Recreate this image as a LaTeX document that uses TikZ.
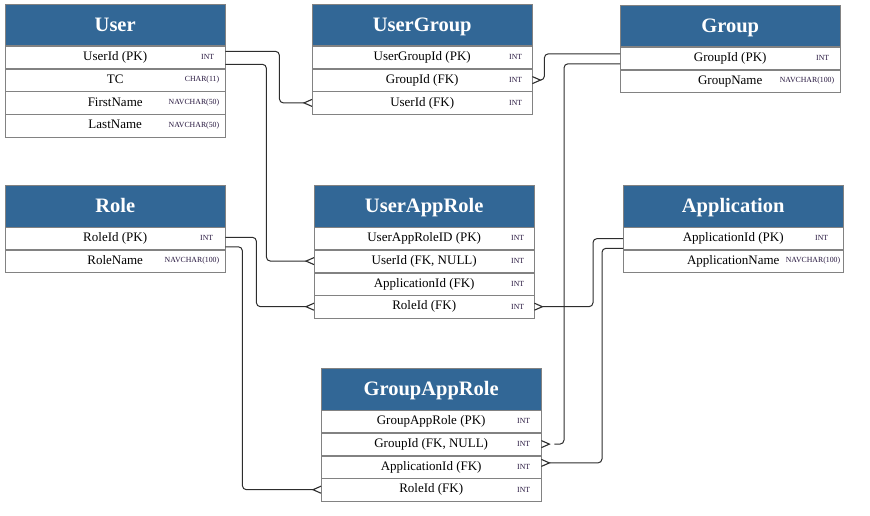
\documentclass[tikz,border=0pt]{standalone}
\usepackage{fontspec}
\setmainfont{Liberation Serif}
\definecolor{hdrblue}{RGB}{50,103,150}
\definecolor{typcol}{RGB}{38,22,62}
\definecolor{boxline}{RGB}{130,130,130}
\definecolor{linecol}{RGB}{45,45,45}
\tikzset{
  hdr/.style={draw=boxline, fill=hdrblue, text=white, font=\fontsize{20.5}{24}\selectfont\bfseries,
    minimum width=220pt, minimum height=41.5pt, inner sep=0pt, text height=14pt, text depth=1pt},
  rowbox/.style={draw=boxline, fill=white, minimum width=220pt, minimum height=22.4pt, inner sep=0pt,
    font=\fontsize{13}{15}\selectfont, text height=9pt, text depth=2.5pt},
  typ/.style={font=\fontsize{7.8}{9}\selectfont, text=typcol, inner sep=0pt},
  conn/.style={draw=linecol, line width=1pt, rounded corners=4pt},
  foot/.style={draw=linecol, line width=1.1pt}
}
\newcommand\erow[5]{%
  \node[rowbox, anchor=north] (#1) at (#2.south) {#3};
  \node[typ, anchor=east] (#1t) at ([xshift=-#5pt]#1.east) {#4};}
% crow's foot opening toward a table on the right of the point: "<"
\newcommand\footL[1]{\draw[foot] ([yshift=3.5pt]#1) -- ([xshift=-8pt]#1) -- ([yshift=-3.5pt]#1);}
% crow's foot opening toward a table on the left of the point: ">"
\newcommand\footR[1]{\draw[foot] ([yshift=3.5pt]#1) -- ([xshift=8pt]#1) -- ([yshift=-3.5pt]#1);}
\begin{document}
\begin{tikzpicture}[x=1pt,y=-1pt]
\useasboundingbox (0,0) rectangle (870,516);
% User
\node[hdr, anchor=north west] (user) at (5,4) {User};
\erow{user1}{user}{UserId (PK)}{INT}{11}
\erow{user2}{user1}{TC}{CHAR(11)}{6}
\erow{user3}{user2}{FirstName}{NAVCHAR(50)}{6}
\erow{user4}{user3}{LastName}{NAVCHAR(50)}{6}
% UserGroup
\node[hdr, anchor=north west] (ug) at (312,4) {UserGroup};
\erow{ug1}{ug}{UserGroupId (PK)}{INT}{10}
\erow{ug2}{ug1}{GroupId (FK)}{INT}{10}
\erow{ug3}{ug2}{UserId (FK)}{INT}{10}
% Group
\node[hdr, anchor=north west] (grp) at (620,5) {Group};
\erow{grp1}{grp}{GroupId (PK)}{INT}{11}
\erow{grp2}{grp1}{GroupName}{NAVCHAR(100)}{6}
% Role
\node[hdr, anchor=north west] (role) at (5,185) {Role};
\erow{role1}{role}{RoleId (PK)}{INT}{12}
\erow{role2}{role1}{RoleName}{NAVCHAR(100)}{6}
% UserAppRole
\node[hdr, anchor=north west] (uar) at (314,185) {UserAppRole};
\erow{uar1}{uar}{UserAppRoleID (PK)}{INT}{10}
\erow{uar2}{uar1}{UserId (FK, NULL)}{INT}{10}
\erow{uar3}{uar2}{ApplicationId (FK)}{INT}{10}
\erow{uar4}{uar3}{RoleId (FK)}{INT}{10}
% Application
\node[hdr, anchor=north west] (app) at (623,185) {Application};
\erow{app1}{app}{ApplicationId (PK)}{INT}{15}
\erow{app2}{app1}{ApplicationName}{NAVCHAR(100)}{3}
% GroupAppRole
\node[hdr, anchor=north west] (gar) at (321,368) {GroupAppRole};
\erow{gar1}{gar}{GroupAppRole (PK)}{INT}{11}
\erow{gar2}{gar1}{GroupId (FK, NULL)}{INT}{11}
\erow{gar3}{gar2}{ApplicationId (FK)}{INT}{11}
\erow{gar4}{gar3}{RoleId (FK)}{INT}{11}
% connector end points
\coordinate (e3) at (ug2.east);
\coordinate (e4) at (gar2.east);
\coordinate (e7) at (uar4.east);
\coordinate (e8) at ([yshift=4pt]gar3.east);
% connectors
\draw[conn] ([yshift=6pt]user1.east) -- ++(54,0) |- ([xshift=-8pt]ug3.west);
\footL{ug3.west}
\draw[conn] ([yshift=-7pt]user1.east) -- ++(41,0) |- ([xshift=-8pt]uar2.west);
\footL{uar2.west}
\draw[conn] ([xshift=8pt]e3) -- ++(4,0) |- ([yshift=4.5pt]grp1.west);
\footR{e3}
\draw[conn] ([yshift=-5.5pt]grp1.west) -- ++(-56,0) |- ([xshift=13pt]e4);
\footR{e4}
\draw[conn] ([yshift=1pt]role1.east) -- ++(31,0) |- ([xshift=-8pt]uar4.west);
\footL{uar4.west}
\draw[conn] ([yshift=-8.5pt]role1.east) -- ++(17,0) |- ([xshift=-8pt]gar4.west);
\footL{gar4.west}
\draw[conn] ([yshift=-0.3pt]app1.west) -- ++(-30,0) |- ([xshift=8pt]e7);
\footR{e7}
\draw[conn] ([yshift=-10pt]app1.west) -- ++(-21,0) |- ([xshift=8pt]e8);
\footR{e8}
\end{tikzpicture}
\end{document}
